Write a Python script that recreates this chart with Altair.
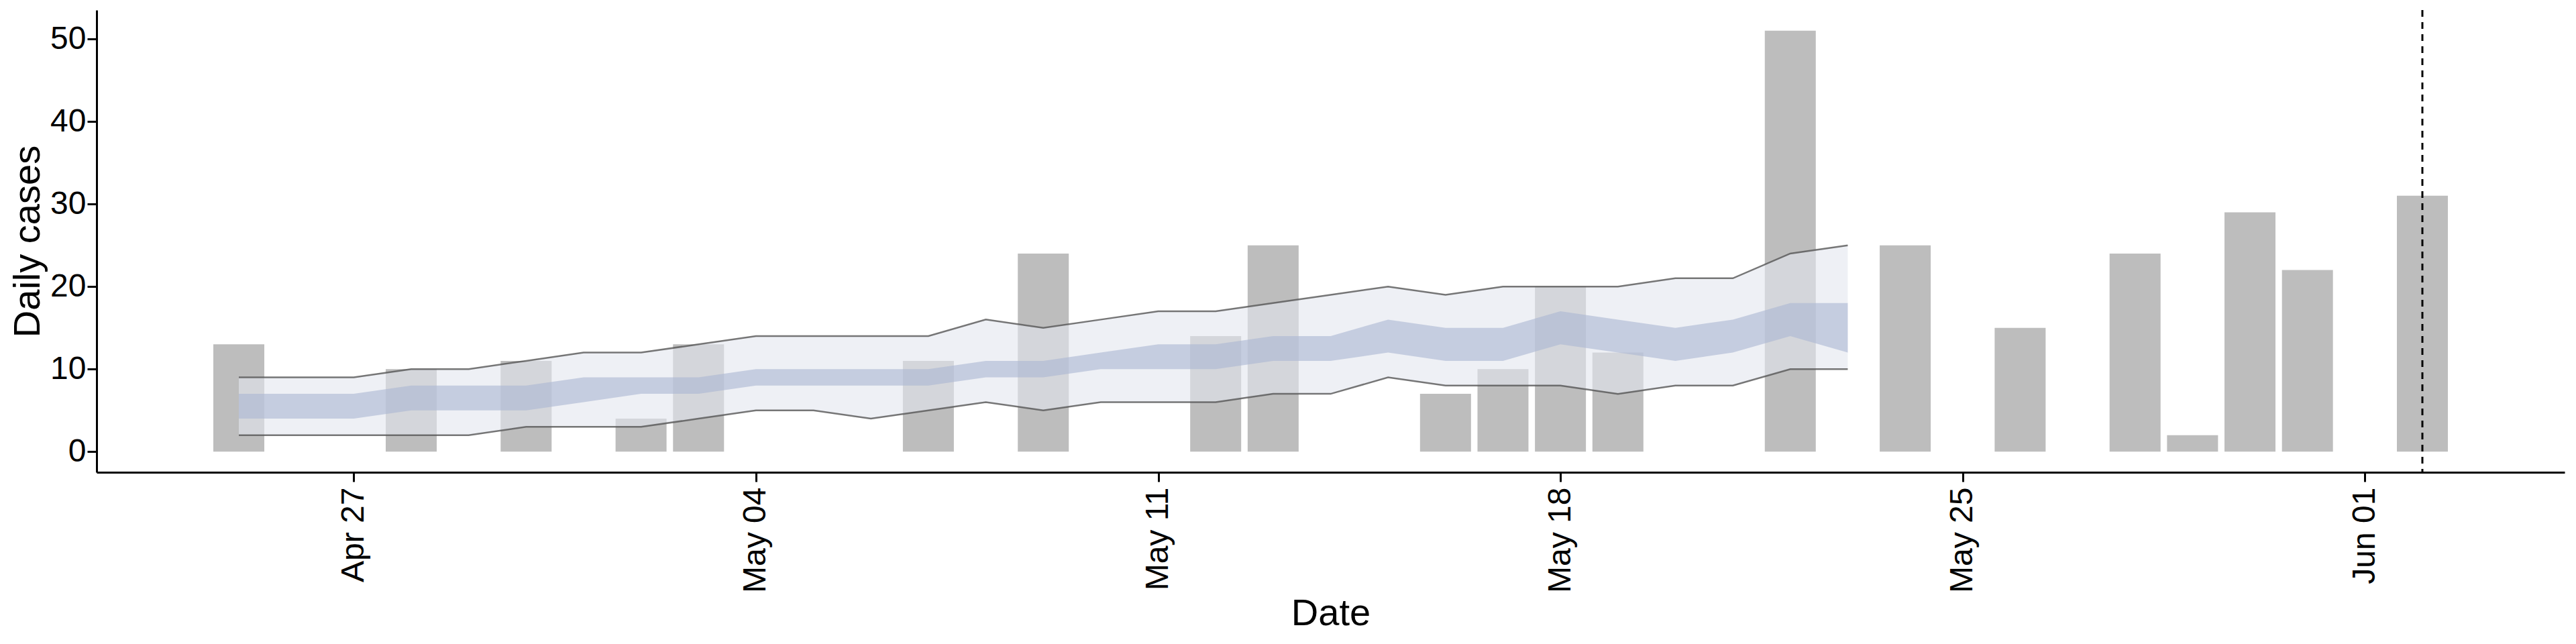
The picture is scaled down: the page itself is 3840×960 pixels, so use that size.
"""Daily cases bars with nowcast ribbons."""

import pandas as pd
import altair as alt

bar_dates = [
    "2020-04-25", "2020-04-28", "2020-04-30", "2020-05-02", "2020-05-03",
    "2020-05-07", "2020-05-09", "2020-05-12", "2020-05-13", "2020-05-16",
    "2020-05-17", "2020-05-18", "2020-05-19", "2020-05-22", "2020-05-24",
    "2020-05-26", "2020-05-28", "2020-05-29", "2020-05-30", "2020-05-31",
    "2020-06-02",
]
bar_cases = [13, 10, 11, 4, 13, 11, 24, 14, 25, 7, 10, 20, 12, 51, 25, 15, 24, 2, 29, 22, 31]

band_dates = [d.strftime("%Y-%m-%d") for d in pd.date_range("2020-04-25", "2020-05-23")]
outer_upper = [9, 9, 9, 10, 10, 11, 12, 12, 13, 14, 14, 14, 14, 16, 15,
               16, 17, 17, 18, 19, 20, 19, 20, 20, 20, 21, 21, 24, 25]
outer_lower = [2, 2, 2, 2, 2, 3, 3, 3, 4, 5, 5, 4, 5, 6, 5,
               6, 6, 6, 7, 7, 9, 8, 8, 8, 7, 8, 8, 10, 10]
inner_upper = [7, 7, 7, 8, 8, 8, 9, 9, 9, 10, 10, 10, 10, 11, 11,
               12, 13, 13, 14, 14, 16, 15, 15, 17, 16, 15, 16, 18, 18]
inner_lower = [4, 4, 4, 5, 5, 5, 6, 7, 7, 8, 8, 8, 8, 9, 9,
               10, 10, 10, 11, 11, 12, 11, 11, 13, 12, 11, 12, 14, 12]
tick_dates = ["2020-04-27", "2020-05-04", "2020-05-11", "2020-05-18", "2020-05-25", "2020-06-01"]
today = "2020-06-02"

bars = pd.DataFrame({"date": bar_dates, "cases": bar_cases})
bands = pd.DataFrame({
    "date": band_dates,
    "ou": outer_upper, "ol": outer_lower,
    "iu": inner_upper, "il": inner_lower,
})

x = alt.X(
    "date:T",
    title="Date",
    scale=alt.Scale(type="utc", domain=["2020-04-22T14:00", "2020-06-04T10:00"]),
    axis=alt.Axis(
        values=[pd.Timestamp(t).value // 10**6 for t in tick_dates],
        labelExpr="utcFormat(datum.value, '%b %d')", labelAngle=-90, grid=False,
        labelFontSize=48, titleFontSize=56, tickSize=14, labelPadding=8,
    ),
)
y_axis = alt.Axis(values=[0, 10, 20, 30, 40, 50], grid=False,
                  labelFontSize=48, titleFontSize=56, tickSize=14)
y_scale = alt.Scale(domain=[-2.5, 53.5], nice=False, zero=False)

bar_layer = alt.Chart(bars).mark_bar(size=76, color="#bdbdbd").encode(
    x=x, y=alt.Y("cases:Q", title="Daily cases", axis=y_axis, scale=y_scale)
)
base = alt.Chart(bands).encode(x=x)
outer = base.mark_area(color="#e3e6ee", opacity=0.6).encode(y=alt.Y("ol:Q", scale=y_scale), y2="ou:Q")
inner = base.mark_area(color="#aab6d2", opacity=0.6).encode(y=alt.Y("il:Q", scale=y_scale), y2="iu:Q")
upper_line = base.mark_line(color="#555555", strokeWidth=2.5, opacity=0.8).encode(y=alt.Y("ou:Q", scale=y_scale))
lower_line = base.mark_line(color="#555555", strokeWidth=2.5, opacity=0.8).encode(y=alt.Y("ol:Q", scale=y_scale))
vline = alt.Chart(pd.DataFrame({"date": [today]})).mark_rule(
    color="black", strokeDash=[10, 8], strokeWidth=3
).encode(x="date:T")

chart = (
    alt.layer(bar_layer, outer, inner, upper_line, lower_line, vline)
    .properties(width=3820, height=940,
                autosize=alt.AutoSizeParams(type="fit", contains="padding"))
    .configure_view(stroke=None)
    .configure_axis(domainColor="black", tickColor="black", labelColor="black",
                    titleColor="black", domainWidth=3, tickWidth=3,
                    labelFont="Liberation Sans", titleFont="Liberation Sans",
                    titleFontWeight="normal")
)

chart.save("out.html", embed_options={"renderer": "svg", "actions": False})
